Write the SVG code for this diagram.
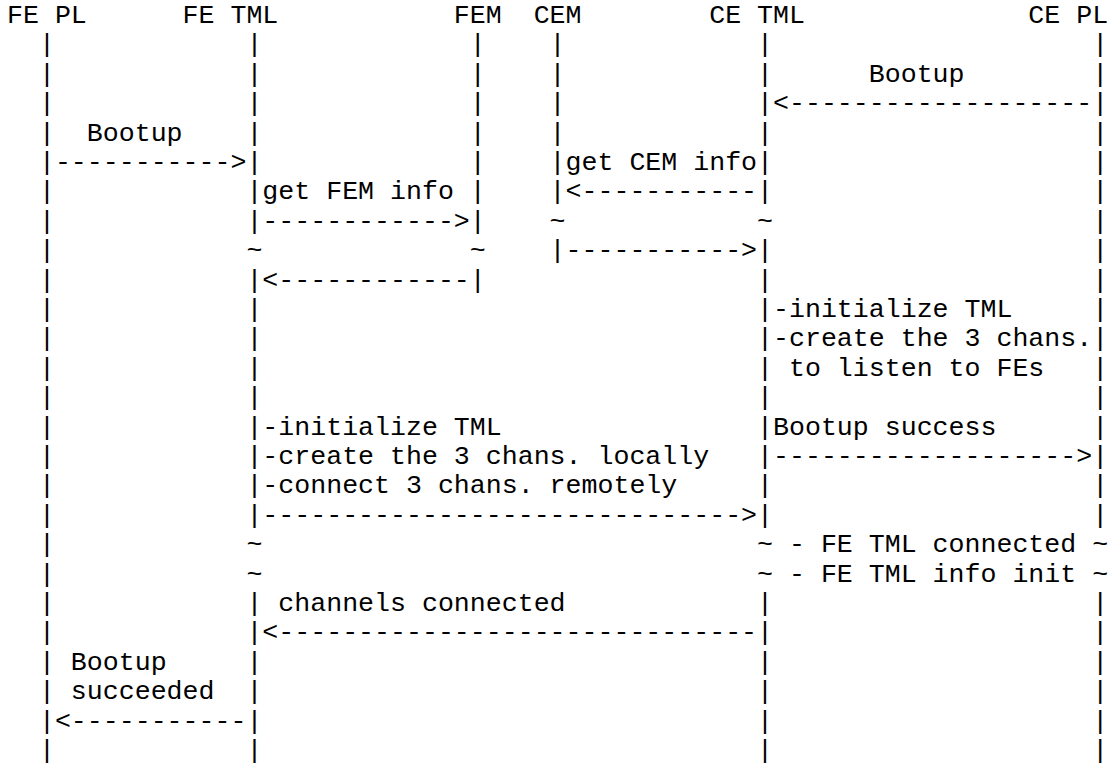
<svg xmlns="http://www.w3.org/2000/svg" width="1114" height="765" viewBox="0 0 1114 765">
<style>
.t{font-family:"Courier New","Nimbus Mono PS","FreeMono","Liberation Mono",monospace;font-size:26.6px;fill:#000;white-space:pre}
</style>
<rect width="1114" height="765" fill="#fff"/>
<g id="participants" xml:space="preserve">
<text class="t" x="7" y="23">FE PL      FE TML           FEM  CEM        CE TML              CE PL</text>
</g>
<g id="connectors" xml:space="preserve">
<text class="t" x="7" y="52.4">  |            |             |    |            |                    |</text>
<text class="t" x="7" y="81.8">  |            |             |    |            |      Bootup        |</text>
<text class="t" x="7" y="111.2">  |            |             |    |            |&lt;-------------------|</text>
<text class="t" x="7" y="140.6">  |  Bootup    |             |    |            |                    |</text>
<text class="t" x="7" y="170">  |-----------&gt;|             |    |get CEM info|                    |</text>
<text class="t" x="7" y="199.4">  |            |get FEM info |    |&lt;-----------|                    |</text>
<text class="t" x="7" y="228.8">  |            |------------&gt;|    ~            ~                    |</text>
<text class="t" x="7" y="258.2">  |            ~             ~    |-----------&gt;|                    |</text>
<text class="t" x="7" y="287.6">  |            |&lt;------------|                 |                    |</text>
<text class="t" x="7" y="317">  |            |                               |-initialize TML     |</text>
<text class="t" x="7" y="346.4">  |            |                               |-create the 3 chans.|</text>
<text class="t" x="7" y="375.8">  |            |                               | to listen to FEs   |</text>
<text class="t" x="7" y="405.2">  |            |                               |                    |</text>
<text class="t" x="7" y="434.6">  |            |-initialize TML                |Bootup success      |</text>
<text class="t" x="7" y="464">  |            |-create the 3 chans. locally   |-------------------&gt;|</text>
<text class="t" x="7" y="493.4">  |            |-connect 3 chans. remotely     |                    |</text>
<text class="t" x="7" y="522.8">  |            |------------------------------&gt;|                    |</text>
<text class="t" x="7" y="552.2">  |            ~                               ~ - FE TML connected ~</text>
<text class="t" x="7" y="581.6">  |            ~                               ~ - FE TML info init ~</text>
<text class="t" x="7" y="611">  |            | channels connected            |                    |</text>
<text class="t" x="7" y="640.4">  |            |&lt;------------------------------|                    |</text>
<text class="t" x="7" y="669.8">  | Bootup     |                               |                    |</text>
<text class="t" x="7" y="699.2">  | succeeded  |                               |                    |</text>
<text class="t" x="7" y="728.6">  |&lt;-----------|                               |                    |</text>
<text class="t" x="7" y="758">  |            |                               |                    |</text>
</g>
</svg>
